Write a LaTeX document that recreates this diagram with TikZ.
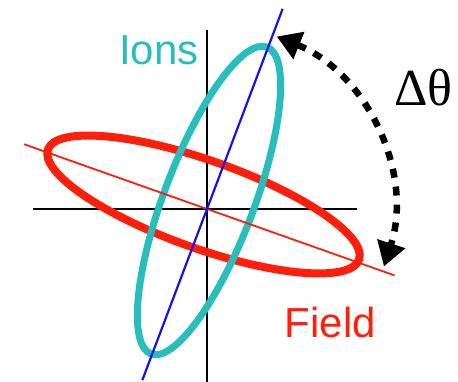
\documentclass[tikz,border=0pt]{standalone}
\usepackage{fontspec}
\setmainfont{Liberation Serif}
\setsansfont{Liberation Sans}
\usetikzlibrary{arrows.meta}
\definecolor{ioncol}{RGB}{40,190,190}
\definecolor{fieldcol}{RGB}{255,30,10}
\definecolor{ionaxis}{RGB}{20,20,230}

\begin{document}
\begin{tikzpicture}[x=1pt,y=1pt,
    lbl/.style={inner sep=0pt,anchor=base west,font=\sffamily\fontsize{42}{42}\selectfont},
    axisline/.style={line width=1.5pt,black}]
        \useasboundingbox (-207,-173) rectangle (251,209);
        % axes
        \draw[axisline] (-174,0) -- (150,0);
        \draw[axisline] (0,179) -- (0,-173);
        % field and ion ellipses
        \draw[fieldcol,line width=8pt,rotate around={-19.5:(-3.5,4.5)}]
          (-3.5,4.5) ellipse [x radius=165pt,y radius=44pt];
        \draw[ioncol,line width=7pt,rotate around={69.3:(2,8.5)}]
          (2,8.5) ellipse [x radius=164pt,y radius=45pt];
        \draw[fieldcol,line width=1.8pt] (160.5:194) -- (-19.5:199);
        \draw[ionaxis,line width=2.2pt] (249.3:183) -- (69.3:214);
        % angle between them
        \draw[line width=6.5pt,dash pattern=on 9pt off 9pt,
          {Triangle[length=24pt,width=28pt]}-{Triangle[length=24pt,width=28pt]}]
          (68:186) arc [start angle=68,end angle=-18,radius=186pt];
        \node[lbl,text=ioncol] (ions) at (-88,144) {Ions};
        \node[lbl,text=fieldcol] (field) at (77.5,-129) {Field};
        \node[inner sep=0pt,anchor=base west,font=\fontsize{52}{52}\selectfont] (dtheta) at (187,103) {Δθ};
      \end{tikzpicture}
\end{document}
